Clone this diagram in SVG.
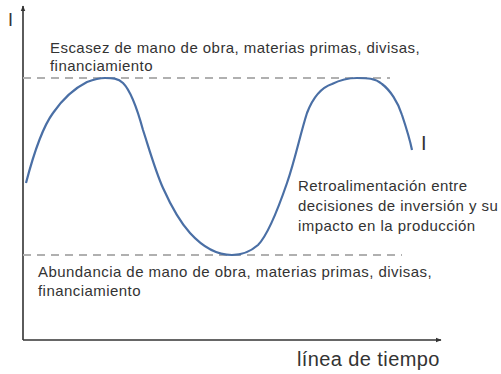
<svg xmlns="http://www.w3.org/2000/svg" width="501" height="374" viewBox="0 0 501 374">
<style>
  text { font-family: "Liberation Sans", Arial, sans-serif; fill: #333; }
  .lbl { font-size: 15px; letter-spacing: 0.45px; }
  .axis { stroke: #333; stroke-width: 1.6; fill: none; }
  .dash { stroke: #b0b0b0; stroke-width: 2; stroke-dasharray: 8 6; fill: none; }
  .curve { stroke: #4a6fa5; stroke-width: 2.2; fill: none; }
</style>
<defs>
  <marker id="arr" viewBox="0 0 10 10" refX="9" refY="5" markerWidth="6" markerHeight="6" orient="auto" markerUnits="userSpaceOnUse">
    <path d="M0,1 L10,5 L0,9 Z" fill="#333"/>
  </marker>
</defs>
<g id="connectors">
  <path class="axis" d="M23,340 L23,6" marker-end="url(#arr)"/>
  <path class="axis" d="M23,340 L441,340" marker-end="url(#arr)"/>
  <path class="dash" d="M23,78 L390,78"/>
  <path class="dash" d="M23,255 L402,255"/>
  <path class="curve" d="M26,183 C32,160 42,128 53,113 C62,100 75,88 87,82 C95,79 100,78 105,78 C112,78 118,78 123,83 C130,90 137,108 143,130 C148,145 155,170 163,188 C172,208 180,222 190,233 C200,244 215,255 232,255 C242,255 250,252 258,245 C266,237 276,215 287,183 C295,160 300,135 307,113 C312,100 320,88 332,84 C340,80 350,78 357,78 C367,78 375,78 382,84 C390,90 398,102 402,115 C406,127 410,140 412,150"/>
</g>
<g id="ylabel"><text x="8" y="26" style="font-size:18px">I</text></g>
<g id="curvelabel"><text x="421" y="150" style="font-size:20px">I</text></g>
<g id="top-text">
  <text class="lbl" x="50" y="53">Escasez de mano de obra, materias primas, divisas,</text>
  <text class="lbl" x="50" y="71">financiamiento</text>
</g>
<g id="bottom-text">
  <text class="lbl" x="38" y="277">Abundancia de mano de obra, materias primas, divisas,</text>
  <text class="lbl" x="38" y="296">financiamiento</text>
</g>
<g id="feedback-text">
  <text class="lbl" x="298" y="191">Retroalimentación entre</text>
  <text class="lbl" x="298" y="211">decisiones de inversión y su</text>
  <text class="lbl" x="298" y="231">impacto en la producción</text>
</g>
<g id="xlabel"><text x="297" y="366" style="font-size:20px; letter-spacing:0.4px">línea de tiempo</text></g>
</svg>
